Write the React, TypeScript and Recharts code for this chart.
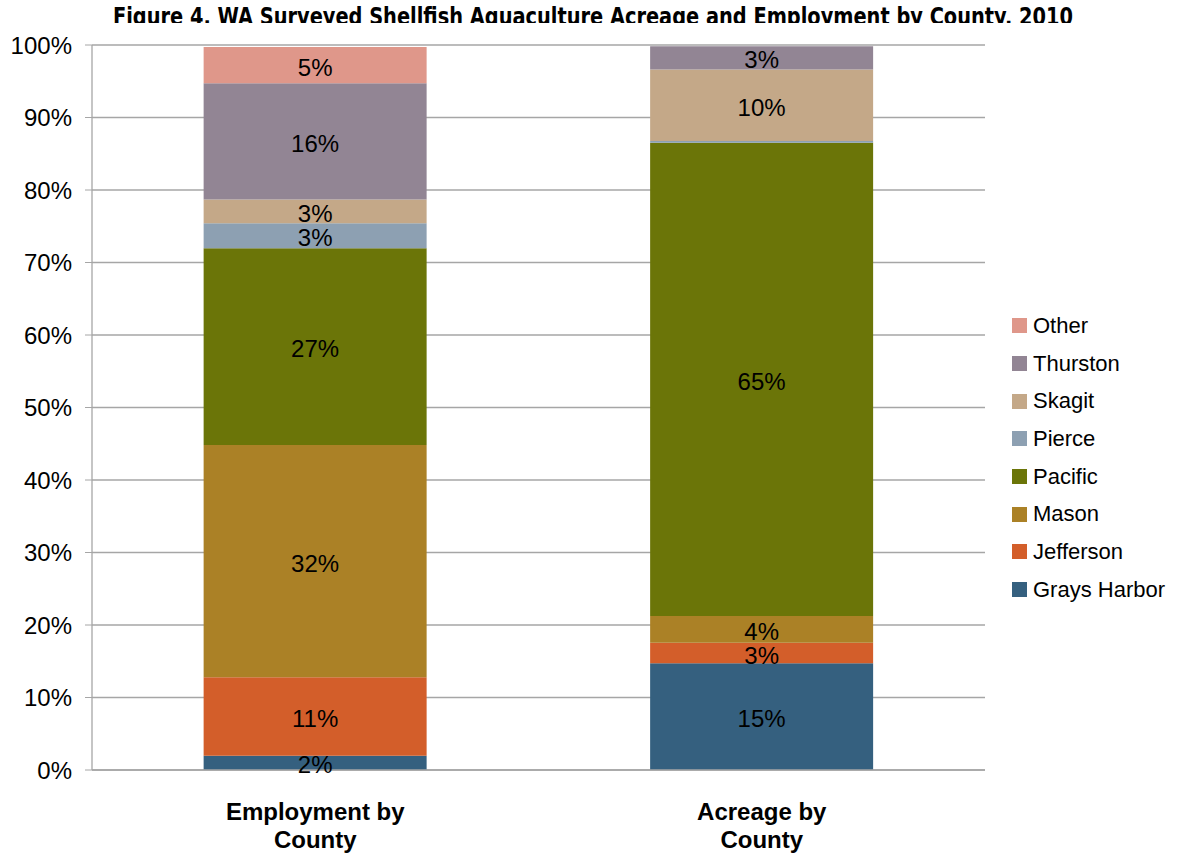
import { BarChart, Bar, XAxis, YAxis, CartesianGrid, LabelList } from 'recharts'

const categories = ['Employment by County', 'Acreage by County']
const yTicks = [0, 10, 20, 30, 40, 50, 60, 70, 80, 90, 100]

// percent share per county, [employment, acreage]
const graysHarbor = [1.97, 14.72]
const jefferson = [10.81, 2.84]
const mason = [32.04, 3.68]
const pacific = [27.13, 65.28]
const pierce = [3.45, 0.25]
const skagit = [3.3, 9.86]
const thurston = [16.04, 3.21]
const other = [4.97, 0]

const series = [
  { key: 'graysHarbor', name: 'Grays Harbor', values: graysHarbor, color: '#35607f' },
  { key: 'jefferson', name: 'Jefferson', values: jefferson, color: '#d35e2a' },
  { key: 'mason', name: 'Mason', values: mason, color: '#ab8126' },
  { key: 'pacific', name: 'Pacific', values: pacific, color: '#6b7508' },
  { key: 'pierce', name: 'Pierce', values: pierce, color: '#8da0b2' },
  { key: 'skagit', name: 'Skagit', values: skagit, color: '#c4a888' },
  { key: 'thurston', name: 'Thurston', values: thurston, color: '#928594' },
  { key: 'other', name: 'Other', values: other, color: '#df978a' },
]

const data = categories.map((name, i) => {
  const row: Record<string, any> = { name }
  series.forEach((s) => (row[s.key] = s.values[i]))
  return row
})

const FONT = "'Liberation Sans', Arial, sans-serif"

function CategoryTick({ x, y, payload }: any) {
  const words = String(payload.value).split(' ')
  const last = words.pop()
  return (
    <text x={x} textAnchor="middle" fontFamily={FONT} fontWeight="bold" fontSize={24} fill="#000">
      <tspan x={x} y={y + 48}>{words.join(' ')}</tspan>
      <tspan x={x} y={y + 76}>{last}</tspan>
    </text>
  )
}

const pct = (v: any) => (v >= 1 ? `${Math.round(v)}%` : '')

export default function App() {
  return (
    <div style={{ position: 'relative', width: 1194, height: 853, background: '#fff', fontFamily: FONT }}>
      <style>{'body{margin:0}'}</style>
      <svg width={1194} height={23} style={{ position: 'absolute', left: 0, top: 0 }}>
        <text
          x={593}
          y={25}
          textAnchor="middle"
          textLength={960}
          lengthAdjust="spacingAndGlyphs"
          fontFamily="'Liberation Sans Narrow', 'DejaVu Sans Condensed', 'Liberation Sans', sans-serif"
          fontWeight="bold"
          fontSize={25}
          fill="#000"
        >
          Figure 4. WA Surveyed Shellfish Aquaculture Acreage and Employment by County, 2010
        </text>
      </svg>
      <BarChart
        width={1194}
        height={853}
        data={data}
        margin={{ top: 45, right: 209, bottom: 0, left: 0 }}
        barCategoryGap="25%"
      >
        <CartesianGrid vertical={false} stroke="#a6a6a6" strokeWidth={1.3} />
        <XAxis
          dataKey="name"
          height={83}
          tick={<CategoryTick />}
          tickLine={false}
          tickSize={0}
          axisLine={{ stroke: '#a6a6a6', strokeWidth: 1.3 }}
          interval={0}
        />
        <YAxis
          domain={[0, 100]}
          ticks={yTicks}
          width={92}
          tickFormatter={(v) => `${v}%`}
          tick={{ fill: '#000', fontSize: 24, fontFamily: FONT }}
          tickSize={7}
          tickMargin={13}
          tickLine={{ stroke: '#a6a6a6' }}
          axisLine={{ stroke: '#a6a6a6', strokeWidth: 1.3 }}
        />
        {series.map((s) => (
          <Bar key={s.key} dataKey={s.key} name={s.name} stackId="a" fill={s.color} isAnimationActive={false}>
            <LabelList
              dataKey={s.key}
              position="center"
              formatter={pct}
              fill="#000"
              fontSize={24}
              fontFamily={FONT}
              dy={2}
            />
          </Bar>
        ))}
      </BarChart>
      <div style={{ position: 'absolute', left: 1012, top: 307, fontSize: 22, color: '#000' }}>
        {[...series].reverse().map((s) => (
          <div key={s.key} style={{ display: 'flex', alignItems: 'center', height: 37.7 }}>
            <span style={{ width: 15, height: 15, background: s.color, marginRight: 6, display: 'inline-block' }} />
            <span>{s.name}</span>
          </div>
        ))}
      </div>
    </div>
  )
}
